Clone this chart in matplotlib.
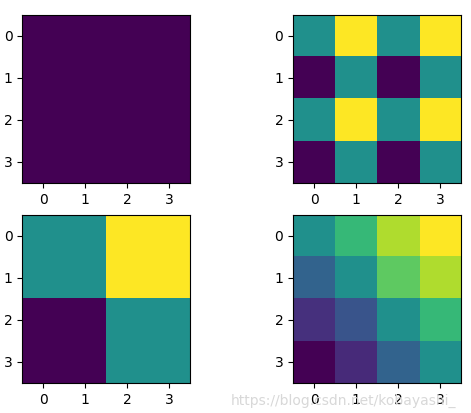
import matplotlib
matplotlib.use("Agg")
import matplotlib.pyplot as plt
import numpy as np

zeros_grid = [[0, 0, 0, 0], [0, 0, 0, 0], [0, 0, 0, 0], [0, 0, 0, 0]]
stripes = [[1, 2, 1, 2], [0, 1, 0, 1], [1, 2, 1, 2], [0, 1, 0, 1]]
blocks = [[1, 1, 2, 2], [1, 1, 2, 2], [0, 0, 1, 1], [0, 0, 1, 1]]
ramp = [[50, 67, 88, 100], [32, 50, 75, 88], [14, 26, 50, 67], [0, 12, 32, 50]]

fig, axes = plt.subplots(2, 2, figsize=(4.71, 4.13), dpi=100)
for ax, grid in zip(axes.flat, [zeros_grid, stripes, blocks, ramp]):
    ax.imshow(np.array(grid), cmap="viridis")
    ax.set_xticks(range(4))
    ax.set_yticks(range(4))

fig.subplots_adjust(left=0.047, right=0.979, top=0.964, bottom=0.073, wspace=0.61, hspace=0.19)
fig.text(0.49, 0.012, "https://blog.csdn.net/kobayashi_", color="#d8d8d8",
         ha="left", va="bottom", fontsize=10)
fig.savefig("out.png")
